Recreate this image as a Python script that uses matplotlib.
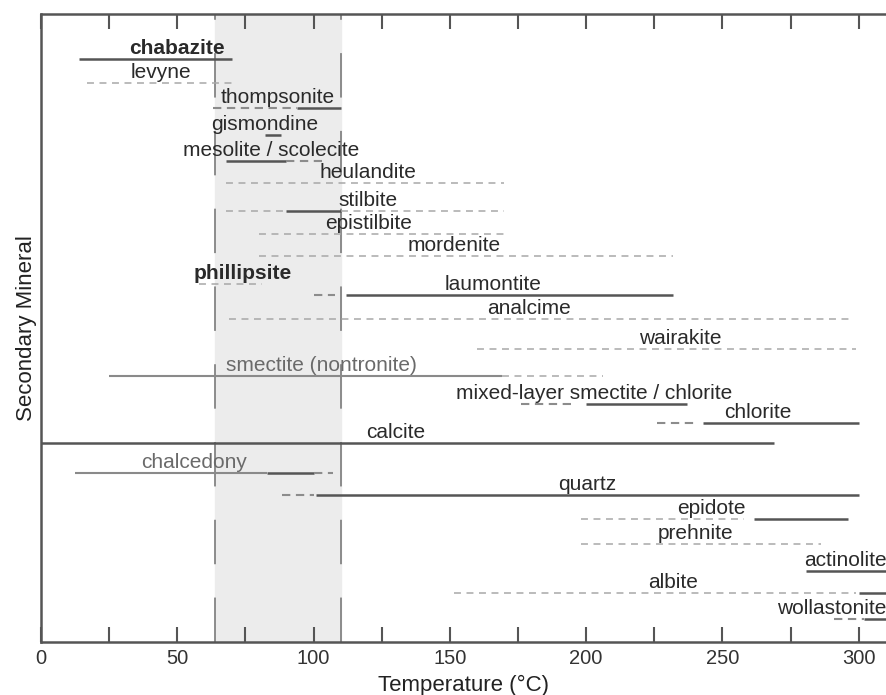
import matplotlib
matplotlib.use("Agg")
import matplotlib.pyplot as plt

plt.rcParams['font.family'] = ['Liberation Sans', 'DejaVu Sans']
plt.rcParams['lines.scale_dashes'] = False

# minerals, top to bottom
minerals = ['chabazite', 'levyne', 'thompsonite', 'gismondine', 'mesolite / scolecite',
            'heulandite', 'stilbite', 'epistilbite', 'mordenite', 'phillipsite',
            'laumontite', 'analcime', 'wairakite', 'smectite (nontronite)',
            'mixed-layer smectite / chlorite', 'chlorite', 'calcite', 'chalcedony',
            'quartz', 'epidote', 'prehnite', 'actinolite', 'albite', 'wollastonite']

# vertical position of each row (depth from top of the panel)
row_y = [45, 69, 94, 121, 147, 169, 197, 220, 242, 270, 281, 305, 335, 362,
         390, 409, 429, 459, 481, 505, 530, 557, 579, 605]

# temperature ranges (degC): (start, end, occurrence)
# common = solid, minor = light solid, uncommon = dashed, rare = fine dashed
ranges = [
    [(14, 70, 'common')],
    [(17, 70, 'rare')],
    [(63, 94, 'uncommon'), (94, 110, 'common')],
    [(82, 88, 'common')],
    [(68, 90, 'common'), (90, 103, 'uncommon')],
    [(68, 170, 'rare')],
    [(68, 90, 'rare'), (90, 110, 'common'), (110, 170, 'rare')],
    [(80, 170, 'rare')],
    [(80, 232, 'rare')],
    [(58, 81, 'rare')],
    [(100, 108, 'uncommon'), (112, 232, 'common')],
    [(69, 298, 'rare')],
    [(160, 299, 'rare')],
    [(25, 169, 'minor'), (169, 206, 'rare')],
    [(176, 196, 'uncommon'), (200, 237, 'common')],
    [(226, 240, 'uncommon'), (243, 300, 'common')],
    [(0, 269, 'common')],
    [(12.5, 83, 'minor'), (83, 100, 'common'), (100, 107, 'uncommon')],
    [(88.5, 100, 'uncommon'), (101, 300, 'common')],
    [(198, 258, 'rare'), (261.5, 296, 'common')],
    [(198, 286, 'rare')],
    [(280.5, 310, 'common')],
    [(151.5, 299, 'rare'), (300, 310, 'common')],
    [(291, 302, 'uncommon'), (302, 310, 'common')],
]

label_x = [50, 44, 87, 82, 84.5, 120, 120, 120, 151.5, 74, 166, 179, 234.5, 103,
           203, 263, 130, 56, 200.5, 246, 240, 295, 232, 290]
bold_labels = ['chabazite', 'phillipsite']
grey_labels = ['smectite (nontronite)', 'chalcedony']

shade_range = (64, 110)

styles = {
    'common': dict(color='#555555', lw=1.8, ls='-'),
    'minor': dict(color='#8a8a8a', lw=1.5, ls='-'),
    'uncommon': dict(color='#8c8c8c', lw=1.5, ls=(0, (6, 4))),
    'rare': dict(color='#a8a8a8', lw=1.1, ls=(0, (5, 4))),
}

fig = plt.figure(figsize=(8.86, 6.95), dpi=100)
ax = fig.add_axes([0.0463, 0.0763, 0.9537, 0.9036])

ax.axvspan(*shade_range, color='#ececec', zorder=0)
for xv in shade_range:
    ax.axvline(xv, color='#7a7a7a', lw=1.2, ls=(0, (32, 24)), zorder=1)

for name, y, segs, lx in zip(minerals, row_y, ranges, label_x):
    for x0, x1, kind in segs:
        ax.plot([x0, x1], [y, y], solid_capstyle='butt', zorder=2, **styles[kind])
    weight = 'bold' if name in bold_labels else 'normal'
    color = '#6a6a6a' if name in grey_labels else '#2a2a2a'
    ax.text(lx, y - 5, name, ha='center', va='baseline', fontsize=15,
            fontweight=weight, color=color, zorder=3)

ax.set_xlim(0, 310)
ax.set_ylim(628, 0)
ax.set_xticks(range(0, 301, 50))
ax.set_xticks(range(25, 301, 50), minor=True)
ax.set_yticks([])
ax.tick_params(axis='x', which='both', direction='in', length=11, width=1.5,
               colors='#555555', top=True, labeltop=False, labelsize=14.5, pad=5)
ax.tick_params(axis='x', labelcolor='#333333')
for side in ['left', 'bottom', 'top']:
    ax.spines[side].set_color('#555555')
    ax.spines[side].set_linewidth(1.8)
ax.spines['right'].set_visible(False)

ax.set_xlabel('Temperature (\u00b0C)', fontsize=16, color='#222222', labelpad=5)
ax.set_ylabel('Secondary Mineral', fontsize=16, color='#222222', labelpad=3)

plt.savefig('out.png', dpi=100)
